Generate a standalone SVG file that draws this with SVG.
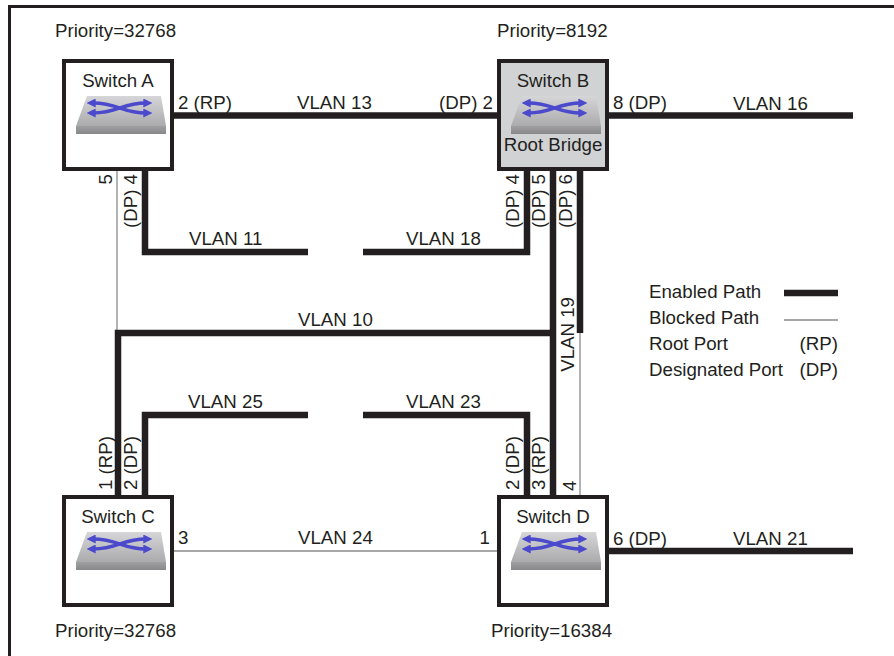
<svg xmlns="http://www.w3.org/2000/svg" width="894" height="656" viewBox="0 0 894 656">
<style>
text{font-family:"Liberation Sans",Arial,sans-serif;font-size:18.7px;fill:#231f20}
.thick{fill:none;stroke:#231f20;stroke-width:6.5;stroke-linejoin:miter;stroke-linecap:butt}
.thin{fill:none;stroke:#8a8a8a;stroke-width:1.3}
.box{fill:#fff;stroke:#231f20;stroke-width:4}
.root{fill:#d1d2d4}
.mid{text-anchor:middle}
.end{text-anchor:end}
.arr{fill:none;stroke:#4b49cc;stroke-width:3.6}
</style>
<defs>
<linearGradient id="topg" x1="0" y1="0" x2="0" y2="1">
<stop offset="0" stop-color="#d6d6d8"/><stop offset="1" stop-color="#ababad"/>
</linearGradient>
<linearGradient id="frontg" x1="0" y1="0" x2="0" y2="1">
<stop offset="0" stop-color="#a0a0a2"/><stop offset="1" stop-color="#88888a"/>
</linearGradient>
<marker id="ah" viewBox="0 0 10 10" refX="3" refY="5" markerWidth="2.5" markerHeight="2.5" orient="auto-start-reverse">
<path d="M0,0 L10,5 L0,10 z" fill="#4b49cc"/>
</marker>
<g id="icon">
<polygon points="11,0 85,0 90,30 0,30" fill="url(#topg)"/>
<rect x="0" y="30" width="90" height="8" fill="url(#frontg)"/>
<path class="arr" d="M17,7 C42,7 46,17 70,17" marker-start="url(#ah)" marker-end="url(#ah)"/>
<path class="arr" d="M17,17 C42,17 46,7 70,7" marker-start="url(#ah)" marker-end="url(#ah)"/>
</g>
</defs>
<rect width="894" height="656" fill="#fff"/>
<path d="M9.5,656 V6.5 H894" fill="none" stroke="#231f20" stroke-width="3"/>

<g id="connectors">
<path class="thick" d="M174,115.5 H497"/>
<path class="thick" d="M609,115.5 H853"/>
<path class="thick" d="M145,171 V252 H308"/>
<path class="thick" d="M363,252 H527 V171"/>
<path class="thick" d="M553,171 V495"/>
<path class="thick" d="M580,171 V333"/>
<path class="thin" d="M580,333 V495"/>
<path class="thin" d="M117,171 V333"/>
<path class="thick" d="M118,495 V333 H556"/>
<path class="thick" d="M145,495 V415 H308"/>
<path class="thick" d="M363,415 H527 V495"/>
<path class="thin" d="M174,551 H497"/>
<path class="thick" d="M609,551 H853"/>
</g>

<g id="labels">
<text x="55" y="37">Priority=32768</text>
<text x="497" y="37">Priority=8192</text>
<text x="55" y="637">Priority=32768</text>
<text x="491" y="637">Priority=16384</text>
<text x="178" y="109">2 (RP)</text>
<text x="297" y="109">VLAN 13</text>
<text class="end" x="493" y="109">(DP) 2</text>
<text x="613" y="109">8 (DP)</text>
<text x="733" y="110">VLAN 16</text>
<text x="189" y="245">VLAN 11</text>
<text x="406" y="245">VLAN 18</text>
<text x="298" y="326">VLAN 10</text>
<text x="188" y="408">VLAN 25</text>
<text x="406" y="408">VLAN 23</text>
<text x="178" y="544">3</text>
<text x="298" y="544">VLAN 24</text>
<text class="end" x="490" y="544">1</text>
<text x="613" y="545">6 (DP)</text>
<text x="733" y="545">VLAN 21</text>
<text class="end" transform="translate(112,174) rotate(-90)">5</text>
<text class="end" transform="translate(137,174) rotate(-90)">(DP) 4</text>
<text class="end" transform="translate(519,174) rotate(-90)">(DP) 4</text>
<text class="end" transform="translate(545,174) rotate(-90)">(DP) 5</text>
<text class="end" transform="translate(572,174) rotate(-90)">(DP) 6</text>
<text class="end" transform="translate(574,297) rotate(-90)">VLAN 19</text>
<text transform="translate(112,490) rotate(-90)">1 (RP)</text>
<text transform="translate(137,490) rotate(-90)">2 (DP)</text>
<text transform="translate(519,490) rotate(-90)">2 (DP)</text>
<text transform="translate(545,490) rotate(-90)">3 (RP)</text>
<text transform="translate(576,491) rotate(-90)">4</text>
</g>

<g id="switch-a">
<rect class="box" x="64" y="61" width="108" height="108"/>
<text class="mid" x="118" y="87">Switch A</text>
<use href="#icon" x="76" y="96"/>
</g>
<g id="switch-b">
<rect class="box root" x="499" y="61" width="108" height="108"/>
<text class="mid" x="553" y="87">Switch B</text>
<use href="#icon" x="511" y="96"/>
<text class="mid" x="553" y="151">Root Bridge</text>
</g>
<g id="switch-c">
<rect class="box" x="64" y="497" width="108" height="108"/>
<text class="mid" x="118" y="523">Switch C</text>
<use href="#icon" x="76" y="532"/>
</g>
<g id="switch-d">
<rect class="box" x="499" y="497" width="108" height="108"/>
<text class="mid" x="553" y="523">Switch D</text>
<use href="#icon" x="511" y="532"/>
</g>

<g id="legend">
<text x="649" y="298">Enabled Path</text>
<path class="thick" d="M784,293 H838"/>
<text x="649" y="324">Blocked Path</text>
<path class="thin" d="M784,320 H838"/>
<text x="649" y="350">Root Port</text>
<text class="end" x="838" y="350">(RP)</text>
<text x="649" y="376">Designated Port</text>
<text class="end" x="838" y="376">(DP)</text>
</g>
</svg>
